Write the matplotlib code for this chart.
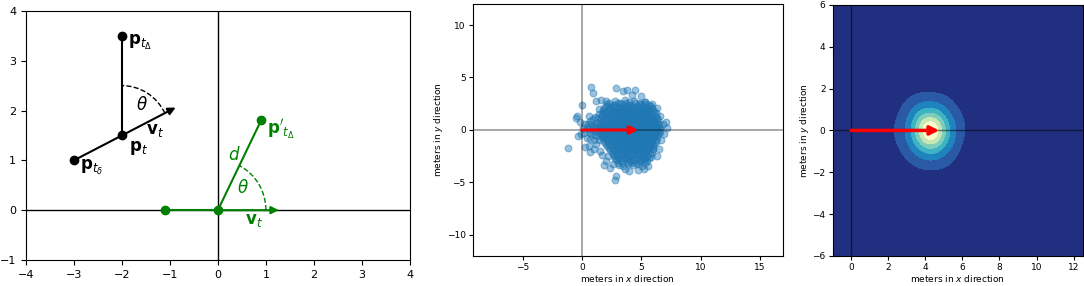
import matplotlib
matplotlib.use("Agg")
import matplotlib.pyplot as plt
import numpy as np
from matplotlib.patches import Arc

plt.rcParams.update({
    "font.family": "DejaVu Sans",
    "mathtext.fontset": "dejavusans",
})

# ---- panel (a): geometry sketch ----
black_x = [-3.0, -2.0, -2.0]          # p_t_delta, p_t, p_t_Delta
black_y = [1.0, 1.5, 3.5]
black_tip = (-0.88, 2.06)             # end of v_t arrow
green_x = [-1.1, 0.0, 0.9]            # previous, origin, p'_t_Delta
green_y = [0.0, 0.0, 1.8]
green_tip = (1.27, 0.0)
arc_r = 1.0

# ---- panels (b), (c): displacement samples (meters) ----
core_pts = [
    (2.3, 2.6), (2.8, 2.8), (3.2, 2.6), (3.6, 2.9), (4.0, 2.7), (4.4, 2.8), (4.9, 2.6), (5.3, 2.7),
    (2.1, 2.5), (2.6, 2.4), (3.0, 2.55), (3.4, 2.45), (3.75, 2.6), (4.1, 2.4), (4.5, 2.55), (4.9, 2.45), (5.3, 2.5), (5.65, 2.4),
    (2.0, 2.3), (2.4, 2.2), (2.8, 2.4), (3.1, 2.2), (3.5, 2.3), (3.9, 2.4), (4.2, 2.2), (4.6, 2.3), (5.0, 2.4), (5.4, 2.2), (5.8, 2.3),
    (1.9, 2.1), (2.3, 2.0), (2.65, 2.15), (3.0, 2.05), (3.35, 2.1), (3.7, 2.15), (4.05, 2.0), (4.4, 2.1), (4.8, 2.05), (5.15, 2.15), (5.5, 2.0), (5.9, 2.1),
    (1.8, 1.9), (2.2, 1.8), (2.6, 2.0), (2.9, 1.8), (3.3, 1.9), (3.6, 2.0), (3.9, 1.8), (4.3, 1.9), (4.6, 2.0), (5.0, 1.8), (5.3, 1.9), (5.7, 2.0), (6.1, 1.8),
    (1.75, 1.7), (2.05, 1.75), (2.4, 1.65), (2.7, 1.75), (3.0, 1.7), (3.3, 1.65), (3.55, 1.75), (3.85, 1.65), (4.15, 1.75), (4.45, 1.7), (4.8, 1.65), (5.1, 1.75), (5.4, 1.7), (5.75, 1.65), (6.05, 1.75),
    (1.7, 1.5), (2.1, 1.4), (2.5, 1.6), (2.8, 1.4), (3.1, 1.5), (3.4, 1.6), (3.7, 1.4), (4.0, 1.5), (4.3, 1.6), (4.6, 1.4), (4.9, 1.5), (5.2, 1.6), (5.5, 1.4), (5.9, 1.5), (6.2, 1.6),
    (1.7, 1.3), (2.0, 1.25), (2.3, 1.35), (2.6, 1.3), (2.9, 1.25), (3.2, 1.35), (3.45, 1.3), (3.7, 1.25), (3.95, 1.35), (4.2, 1.3), (4.45, 1.25), (4.7, 1.35), (5.0, 1.3), (5.3, 1.25), (5.6, 1.35), (5.9, 1.3), (6.2, 1.25),
    (1.6, 1.1), (2.0, 1.0), (2.4, 1.2), (2.7, 1.0), (3.0, 1.1), (3.3, 1.2), (3.55, 1.0), (3.8, 1.1), (4.05, 1.2), (4.3, 1.0), (4.55, 1.1), (4.8, 1.2), (5.1, 1.0), (5.4, 1.1), (5.7, 1.2), (6.0, 1.0), (6.3, 1.1),
    (1.55, 0.9), (1.8, 0.85), (2.15, 0.95), (2.5, 0.9), (2.8, 0.85), (3.1, 0.95), (3.35, 0.9), (3.6, 0.85), (3.85, 0.95), (4.1, 0.9), (4.35, 0.85), (4.6, 0.95), (4.9, 0.9), (5.2, 0.85), (5.5, 0.95), (5.8, 0.9), (6.1, 0.85), (6.4, 0.95),
    (1.6, 0.7), (1.9, 0.6), (2.3, 0.8), (2.6, 0.6), (2.9, 0.7), (3.2, 0.8), (3.45, 0.6), (3.7, 0.7), (3.9, 0.8), (4.1, 0.6), (4.3, 0.7), (4.5, 0.8), (4.7, 0.6), (4.95, 0.7), (5.2, 0.8), (5.5, 0.6), (5.8, 0.7), (6.1, 0.8), (6.4, 0.6),
    (1.5, 0.5), (1.75, 0.45), (2.05, 0.55), (2.35, 0.5), (2.65, 0.45), (2.95, 0.55), (3.2, 0.5), (3.45, 0.45), (3.65, 0.55), (3.85, 0.5), (4.0, 0.45), (4.2, 0.55), (4.35, 0.45), (4.5, 0.55), (4.65, 0.45), (4.85, 0.55), (5.05, 0.5), (5.3, 0.45), (5.6, 0.55), (5.9, 0.5), (6.2, 0.45), (6.5, 0.55),
    (1.5, 0.3), (1.8, 0.2), (2.1, 0.4), (2.45, 0.2), (2.75, 0.3), (3.05, 0.4), (3.3, 0.2), (3.55, 0.3), (3.75, 0.4), (3.95, 0.2), (4.1, 0.35), (4.25, 0.2), (4.4, 0.4), (4.55, 0.25), (4.75, 0.35), (4.95, 0.2), (5.2, 0.3), (5.45, 0.4), (5.7, 0.2), (6.0, 0.3), (6.3, 0.4), (6.55, 0.2),
    (1.45, 0.1), (1.7, 0.15), (2.0, 0.05), (2.3, 0.1), (2.6, 0.15), (2.9, 0.05), (3.15, 0.1), (3.4, 0.15), (3.6, 0.05), (3.8, 0.1), (4.0, 0.05), (4.15, 0.15), (4.3, 0.05), (4.45, 0.15), (4.6, 0.1), (4.8, 0.05), (5.0, 0.15), (5.25, 0.1), (5.5, 0.05), (5.75, 0.15), (6.05, 0.1), (6.35, 0.05), (6.6, 0.15),
    (1.5, -0.1), (1.8, 0.0), (2.1, -0.2), (2.4, -0.05), (2.7, -0.15), (3.0, 0.0), (3.25, -0.2), (3.5, -0.05), (3.7, -0.15), (3.9, 0.0), (4.05, -0.2), (4.2, -0.05), (4.35, -0.15), (4.5, 0.0), (4.65, -0.2), (4.85, -0.05), (5.05, -0.15), (5.3, 0.0), (5.55, -0.2), (5.8, -0.05), (6.1, -0.15), (6.4, 0.0), (6.6, -0.2),
    (1.5, -0.3), (1.75, -0.35), (2.0, -0.25), (2.3, -0.3), (2.6, -0.35), (2.9, -0.25), (3.15, -0.3), (3.4, -0.35), (3.6, -0.25), (3.8, -0.35), (3.95, -0.25), (4.1, -0.3), (4.25, -0.35), (4.4, -0.25), (4.55, -0.35), (4.7, -0.25), (4.9, -0.3), (5.15, -0.35), (5.4, -0.25), (5.65, -0.3), (5.95, -0.35), (6.25, -0.25), (6.5, -0.3),
    (1.6, -0.5), (1.9, -0.6), (2.2, -0.4), (2.5, -0.55), (2.8, -0.45), (3.1, -0.6), (3.35, -0.4), (3.6, -0.5), (3.8, -0.6), (4.0, -0.45), (4.15, -0.55), (4.3, -0.4), (4.45, -0.6), (4.6, -0.5), (4.8, -0.4), (5.0, -0.6), (5.25, -0.45), (5.5, -0.55), (5.75, -0.4), (6.05, -0.6), (6.35, -0.5),
    (1.7, -0.7), (2.0, -0.75), (2.3, -0.65), (2.6, -0.7), (2.9, -0.75), (3.2, -0.65), (3.45, -0.7), (3.7, -0.75), (3.9, -0.65), (4.1, -0.7), (4.3, -0.75), (4.5, -0.65), (4.7, -0.7), (4.95, -0.75), (5.2, -0.65), (5.45, -0.7), (5.7, -0.75), (6.0, -0.65), (6.3, -0.7),
    (1.8, -0.9), (2.1, -1.0), (2.4, -0.8), (2.7, -0.95), (3.0, -0.85), (3.3, -1.0), (3.55, -0.8), (3.8, -0.9), (4.0, -1.0), (4.2, -0.85), (4.4, -0.95), (4.6, -0.8), (4.85, -1.0), (5.1, -0.9), (5.35, -0.8), (5.6, -1.0), (5.9, -0.85), (6.2, -0.95),
    (1.9, -1.1), (2.2, -1.15), (2.55, -1.05), (2.85, -1.1), (3.15, -1.15), (3.45, -1.05), (3.7, -1.1), (3.95, -1.15), (4.2, -1.05), (4.45, -1.1), (4.7, -1.15), (5.0, -1.05), (5.3, -1.1), (5.6, -1.15), (5.9, -1.05), (6.2, -1.1),
    (2.0, -1.3), (2.35, -1.4), (2.7, -1.2), (3.0, -1.35), (3.3, -1.25), (3.6, -1.4), (3.85, -1.2), (4.1, -1.3), (4.35, -1.4), (4.6, -1.2), (4.9, -1.35), (5.2, -1.25), (5.5, -1.4), (5.8, -1.2), (6.1, -1.3),
    (2.15, -1.5), (2.5, -1.55), (2.85, -1.45), (3.15, -1.5), (3.45, -1.55), (3.75, -1.45), (4.0, -1.5), (4.25, -1.55), (4.5, -1.45), (4.75, -1.5), (5.05, -1.55), (5.35, -1.45), (5.65, -1.5), (5.95, -1.55),
    (2.3, -1.7), (2.65, -1.8), (3.0, -1.6), (3.3, -1.75), (3.6, -1.65), (3.9, -1.8), (4.2, -1.6), (4.5, -1.7), (4.8, -1.8), (5.1, -1.6), (5.4, -1.75), (5.7, -1.65), (6.0, -1.8),
    (2.4, -1.9), (2.75, -1.95), (3.1, -1.85), (3.45, -1.9), (3.75, -1.95), (4.05, -1.85), (4.35, -1.9), (4.65, -1.95), (4.95, -1.85), (5.3, -1.9), (5.6, -1.95), (5.95, -1.85),
    (2.5, -2.1), (2.9, -2.2), (3.2, -2.0), (3.55, -2.15), (3.9, -2.05), (4.2, -2.2), (4.5, -2.0), (4.85, -2.1), (5.2, -2.2), (5.5, -2.0), (5.9, -2.15),
    (2.6, -2.3), (2.95, -2.35), (3.3, -2.25), (3.65, -2.3), (4.0, -2.35), (4.3, -2.25), (4.65, -2.3), (5.0, -2.35), (5.35, -2.25), (5.7, -2.3),
    (2.7, -2.5), (3.05, -2.6), (3.4, -2.4), (3.75, -2.55), (4.1, -2.45), (4.45, -2.6), (4.8, -2.4), (5.15, -2.55), (5.5, -2.45), (5.8, -2.6),
    (2.8, -2.7), (3.15, -2.75), (3.55, -2.65), (3.9, -2.7), (4.25, -2.75), (4.6, -2.65), (5.0, -2.7), (5.35, -2.75), (5.65, -2.65),
    (2.9, -2.9), (3.3, -3.0), (3.7, -2.8), (4.05, -2.95), (4.4, -2.85), (4.8, -3.0), (5.2, -2.8), (5.5, -2.95),
    (3.0, -3.1), (3.4, -3.15), (3.8, -3.05), (4.15, -3.1), (4.55, -3.15), (4.95, -3.05), (5.3, -3.1),
    (3.1, -3.3), (3.5, -3.4), (3.9, -3.2), (4.3, -3.35), (4.7, -3.25), (5.1, -3.4),
]
center_pts = [
    (3.9, 0.15), (4.3, 0.1), (4.6, -0.3), (4.0, -0.3), (4.4, 0.5), (3.7, 0.5), (4.2, -0.7), (4.8, 0.1),
    (3.6, -0.2), (4.5, -0.9), (3.9, 0.9), (4.7, 0.9), (3.4, -0.7), (5.0, -0.4), (4.1, 1.3), (4.3, -1.1),
    (4.15, 0.0), (4.25, -0.25), (4.05, 0.3), (4.45, 0.2), (3.95, -0.5), (4.55, -0.55), (3.8, 0.25), (4.7, -0.1),
    (4.2, 0.6), (4.35, -0.45), (3.85, -0.1), (4.6, 0.4), (4.1, -0.9), (3.75, 0.7), (4.9, 0.5), (4.4, -0.75),
]
# the saturated blob hides how strongly the samples pile up near the mode,
# which the density panel shows: rows of (y, xs) getting denser towards (4.3, 0)
dense_rows = [
    (1.75, [3.45, 3.8, 4.15, 4.5, 4.85, 5.2]),
    (1.4, [2.95, 3.3, 3.65, 4.0, 4.35, 4.7, 5.05, 5.4]),
    (1.05, [2.7, 3.05, 3.4, 3.75, 4.1, 4.45, 4.8, 5.15, 5.5, 5.85]),
    (0.7, [2.5, 2.85, 3.2, 3.55, 3.9, 4.25, 4.6, 4.95, 5.3, 5.65, 6.0]),
    (0.35, [2.4, 2.75, 3.1, 3.45, 3.8, 4.15, 4.5, 4.85, 5.2, 5.55, 5.9, 6.2]),
    (0.0, [2.35, 2.7, 3.05, 3.4, 3.75, 4.1, 4.45, 4.8, 5.15, 5.5, 5.85, 6.2]),
    (-0.35, [2.45, 2.8, 3.15, 3.5, 3.85, 4.2, 4.55, 4.9, 5.25, 5.6, 5.95]),
    (-0.7, [2.55, 2.9, 3.25, 3.6, 3.95, 4.3, 4.65, 5.0, 5.35, 5.7, 6.05]),
    (-1.05, [2.65, 3.0, 3.35, 3.7, 4.05, 4.4, 4.75, 5.1, 5.45, 5.8]),
    (-1.4, [2.9, 3.25, 3.6, 3.95, 4.3, 4.65, 5.0, 5.35, 5.7]),
    (-1.75, [3.5, 3.85, 4.2, 4.55, 4.9, 5.15]),
    (1.125, [3.7, 3.95, 4.2, 4.45, 4.7, 4.9]),
    (0.875, [3.4, 3.65, 3.9, 4.15, 4.4, 4.65, 4.9, 5.15]),
    (0.625, [3.2, 3.45, 3.7, 3.95, 4.2, 4.45, 4.7, 4.95, 5.2, 5.4]),
    (0.375, [3.1, 3.35, 3.6, 3.85, 4.1, 4.35, 4.6, 4.85, 5.1, 5.35]),
    (0.125, [3.05, 3.3, 3.55, 3.8, 4.05, 4.3, 4.55, 4.8, 5.05, 5.3, 5.55]),
    (-0.125, [3.05, 3.3, 3.55, 3.8, 4.05, 4.3, 4.55, 4.8, 5.05, 5.3, 5.55]),
    (-0.375, [3.1, 3.35, 3.6, 3.85, 4.1, 4.35, 4.6, 4.85, 5.1, 5.35]),
    (-0.625, [3.2, 3.45, 3.7, 3.95, 4.2, 4.45, 4.7, 4.95, 5.2, 5.4]),
    (-0.875, [3.4, 3.65, 3.9, 4.15, 4.4, 4.65, 4.9, 5.15]),
    (-1.125, [3.7, 3.95, 4.2, 4.45, 4.7, 4.9]),
    (0.72, [4.0, 4.18, 4.36, 4.54]),
    (0.54, [3.75, 3.93, 4.11, 4.29, 4.47, 4.65, 4.83]),
    (0.36, [3.62, 3.8, 3.98, 4.16, 4.34, 4.52, 4.7, 4.88]),
    (0.18, [3.56, 3.74, 3.92, 4.1, 4.28, 4.46, 4.64, 4.82, 5.0]),
    (0.0, [3.55, 3.73, 3.91, 4.09, 4.27, 4.45, 4.63, 4.81, 4.99]),
    (-0.18, [3.56, 3.74, 3.92, 4.1, 4.28, 4.46, 4.64, 4.82, 5.0]),
    (-0.36, [3.62, 3.8, 3.98, 4.16, 4.34, 4.52, 4.7, 4.88]),
    (-0.54, [3.75, 3.93, 4.11, 4.29, 4.47, 4.65, 4.83]),
    (-0.72, [4.0, 4.18, 4.36, 4.54]),
    (0.39, [4.17, 4.3, 4.43]),
    (0.26, [4.0, 4.13, 4.26, 4.39, 4.52, 4.64]),
    (0.13, [3.9, 4.03, 4.16, 4.29, 4.42, 4.55, 4.68]),
    (0.0, [3.88, 4.01, 4.14, 4.27, 4.4, 4.53, 4.66]),
    (-0.13, [3.9, 4.03, 4.16, 4.29, 4.42, 4.55, 4.68]),
    (-0.26, [4.0, 4.13, 4.26, 4.39, 4.52, 4.64]),
    (-0.39, [4.17, 4.3, 4.43]),
]
sparse_pts = [
    (0.1, 0.2), (0.2, -0.3), (0.3, 0.6), (0.4, -0.8), (0.5, 0.1), (0.6, -1.5), (0.7, 0.9), (0.8, -0.4),
    (0.9, 0.4), (1.0, -1.0), (1.1, 1.2), (1.2, -0.2), (1.3, 0.7), (1.0, -1.8), (0.3, -1.6), (0.6, 1.3),
    (1.2, -1.3), (1.4, 1.5), (-0.1, -0.4), (-0.2, 0.8), (-0.4, 1.3), (-0.5, 1.1), (-0.3, -0.6), (-1.2, -1.7),
    (0.0, 2.4), (0.8, 4.1), (0.9, 3.5), (1.2, 2.8), (1.6, 2.9), (2.0, 2.8), (1.4, 2.0), (2.9, 4.0),
    (3.5, 3.7), (3.8, 3.8), (4.5, 3.8), (4.2, 3.3), (5.0, 3.2), (5.3, 2.7), (5.9, 2.5), (6.3, 2.1),
    (6.6, 1.3), (6.8, 0.6), (7.1, 0.8), (7.2, 0.2), (6.9, -0.4), (6.7, -1.0), (6.5, -1.8), (6.3, -2.5),
    (5.6, -3.4), (5.2, -3.7), (4.7, -3.8), (4.0, -3.9), (3.6, -3.7), (2.9, -4.4), (2.8, -4.8), (2.4, -3.6),
    (2.0, -3.0), (1.7, -2.4), (1.5, -2.0), (2.2, -2.5), (1.9, -3.3), (0.7, -2.1), (2.6, -3.2),
    (0.5, 0.6), (0.7, -0.9), (0.9, -0.1), (1.1, 0.5), (1.3, -0.6), (1.1, -0.5), (0.4, 0.3), (1.4, -1.0),
    (1.3, 1.1), (0.9, 1.0), (0.6, -0.2), (1.0, 0.2), (1.2, 0.3), (0.8, 0.6),
]
heading = (4.75, 0.0)                 # red velocity arrow

dense_pts = [(x, y) for y, xs in dense_rows for x in xs]
cloud = np.array(core_pts + center_pts + dense_pts + sparse_pts)
cloud_x, cloud_y = cloud[:, 0], cloud[:, 1]

fig = plt.figure(figsize=(10.84, 2.86), dpi=100)
ax1 = fig.add_axes([0.024, 0.091, 0.354, 0.871])
ax2 = fig.add_axes([0.436, 0.105, 0.286, 0.881])
ax3 = fig.add_axes([0.768, 0.105, 0.231, 0.878])

# ---------- (a) ----------
ax1.axhline(0, color="k", lw=1, zorder=1)
ax1.axvline(0, color="k", lw=1, zorder=1)
ax1.plot(black_x[:2], black_y[:2], color="k", lw=1.5, zorder=2)
ax1.plot(black_x[1:], black_y[1:], color="k", lw=1.5, zorder=2)
ax1.annotate("", xy=black_tip, xytext=(black_x[1], black_y[1]),
             arrowprops=dict(arrowstyle="-|>", color="k", lw=1.5, mutation_scale=11,
                             shrinkA=0, shrinkB=0), zorder=2)
ax1.plot(black_x, black_y, "o", color="k", ms=6, zorder=3)
ang_v = np.degrees(np.arctan2(black_y[1] - black_y[0], black_x[1] - black_x[0]))
ax1.add_patch(Arc((black_x[1], black_y[1]), 2 * arc_r, 2 * arc_r, theta1=ang_v, theta2=90,
                  color="k", lw=1, ls="--"))

g = "green"
ax1.plot(green_x[:2], green_y[:2], color=g, lw=1.5, zorder=2)
ax1.plot(green_x[1:], green_y[1:], color=g, lw=1.5, zorder=2)
ax1.annotate("", xy=green_tip, xytext=(green_x[1], green_y[1]),
             arrowprops=dict(arrowstyle="-|>", color=g, lw=1.5, mutation_scale=11,
                             shrinkA=0, shrinkB=0), zorder=2)
ax1.plot(green_x, green_y, "o", color=g, ms=6, zorder=3)
ang_d = np.degrees(np.arctan2(green_y[2], green_x[2]))
ax1.add_patch(Arc((0, 0), 2 * arc_r, 2 * arc_r, theta1=0, theta2=ang_d, color=g, lw=1, ls="--"))

fs = 12
ax1.text(-1.88, 3.36, r"$\mathbf{p}_{t_\Delta}$", fontsize=fs, va="center")
ax1.text(-1.5, 1.6, r"$\mathbf{v}_t$", fontsize=fs, va="center")
ax1.text(-1.85, 1.25, r"$\mathbf{p}_t$", fontsize=fs, va="center")
ax1.text(-2.88, 0.85, r"$\mathbf{p}_{t_\delta}$", fontsize=fs, va="center")
ax1.text(-1.59, 2.11, r"$\theta$", fontsize=fs, ha="center", va="center")
ax1.text(1.03, 1.6, r"$\mathbf{p}'_{t_\Delta}$", fontsize=fs, va="center", color=g)
ax1.text(0.35, 1.11, r"$d$", fontsize=fs, ha="center", va="center", color=g)
ax1.text(0.52, 0.45, r"$\theta$", fontsize=fs, ha="center", va="center", color=g)
ax1.text(0.75, -0.2, r"$\mathbf{v}_t$", fontsize=fs, ha="center", va="center", color=g)

ax1.set_xlim(-4, 4)
ax1.set_ylim(-1, 4)
ax1.tick_params(labelsize=8)

# ---------- (b) ----------
ax2.scatter(cloud_x, cloud_y, s=24, color="#1f77b4", alpha=0.45, linewidths=0.8, zorder=2)
ax2.axhline(0, color="k", alpha=0.4, lw=1.2, zorder=3)
ax2.axvline(0, color="k", alpha=0.4, lw=1.2, zorder=3)
ax2.annotate("", xy=heading, xytext=(0, 0),
             arrowprops=dict(arrowstyle="-|>", color="red", lw=2.2, mutation_scale=12,
                             shrinkA=0, shrinkB=0), zorder=4)
ax2.set_xlim(-9.2, 16.9)
ax2.set_ylim(-12, 12)
ax2.set_xticks([-5, 0, 5, 10, 15])
ax2.set_yticks([-10, -5, 0, 5, 10])
ax2.set_xlabel(r"meters in $x$ direction", fontsize=6.5, labelpad=1)
ax2.set_ylabel(r"meters in $y$ direction", fontsize=6.5, labelpad=1)
ax2.tick_params(labelsize=6.5, length=3, pad=2)

# ---------- (c) ----------
gx = np.linspace(-1, 12.5, 240)
gy = np.linspace(-6, 6, 220)
GX, GY = np.meshgrid(gx, gy)
cov = np.cov(cloud.T) * len(cloud) ** (-1 / 3)
icov = np.linalg.inv(cov)
dx = GX[..., None] - cloud_x
dy = GY[..., None] - cloud_y
Z = np.exp(-0.5 * (icov[0, 0] * dx * dx + 2 * icov[0, 1] * dx * dy + icov[1, 1] * dy * dy)).sum(-1)
Z = Z / Z.max()

bg = "#212f80"
lvl_colors = ["#2a59a6", "#1f84be", "#3db3c4", "#7fcdbb", "#c6e8b4", "#f7fbcb"]
levels = [0.2, 0.32, 0.46, 0.6, 0.74, 0.87, 1.01]
ax3.set_facecolor(bg)
ax3.contourf(GX, GY, Z, levels=levels, colors=lvl_colors, zorder=1)
ax3.axhline(0, color="k", alpha=0.5, lw=1, zorder=2)
ax3.axvline(0, color="k", alpha=0.5, lw=1, zorder=2)
ax3.annotate("", xy=heading, xytext=(0, 0),
             arrowprops=dict(arrowstyle="-|>", color="red", lw=2.5, mutation_scale=13,
                             shrinkA=0, shrinkB=0), zorder=4)
ax3.set_xlim(-1, 12.5)
ax3.set_ylim(-6, 6)
ax3.set_xticks([0, 2, 4, 6, 8, 10, 12])
ax3.set_yticks([-6, -4, -2, 0, 2, 4, 6])
ax3.set_xlabel(r"meters in $x$ direction", fontsize=6.5, labelpad=1)
ax3.set_ylabel(r"meters in $y$ direction", fontsize=6.5, labelpad=1)
ax3.tick_params(labelsize=6.5, length=3, pad=2)

fig.savefig("out.png", dpi=100)
